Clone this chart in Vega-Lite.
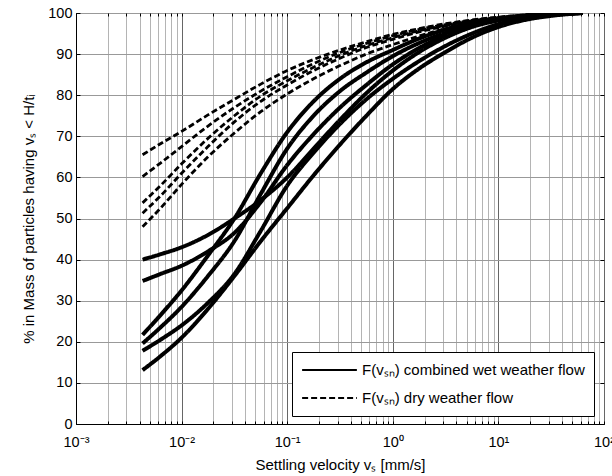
{
  "$schema": "https://vega.github.io/schema/vega-lite/v6.json",
  "width": 528,
  "height": 411,
  "autosize": {"type": "none"},
  "padding": {"left": 76, "top": 13, "right": 8, "bottom": 52},
  "background": "white",
  "config": {
    "view": {"stroke": "black", "strokeWidth": 1},
    "font": "Liberation Sans",
    "axis": {"labelFont": "Liberation Sans", "titleFont": "Liberation Sans", "labelColor": "black", "titleColor": "black", "titleFontWeight": "normal", "tickColor": "black", "domainColor": "black"}
  },
  "data": {
    "values": [
      {"v":0.00427,"p":40,"c":"w1","t":"wet"},{"v":0.00631,"p":41.3,"c":"w1","t":"wet"},{"v":0.01,"p":43,"c":"w1","t":"wet"},{"v":0.01778,"p":46,"c":"w1","t":"wet"},{"v":0.03162,"p":50,"c":"w1","t":"wet"},{"v":0.05623,"p":54.5,"c":"w1","t":"wet"},{"v":0.1,"p":60,"c":"w1","t":"wet"},{"v":0.1778,"p":67,"c":"w1","t":"wet"},{"v":0.3162,"p":74,"c":"w1","t":"wet"},{"v":0.5623,"p":80.5,"c":"w1","t":"wet"},{"v":1,"p":86,"c":"w1","t":"wet"},{"v":1.778,"p":90.5,"c":"w1","t":"wet"},{"v":3.162,"p":94,"c":"w1","t":"wet"},{"v":5.623,"p":96.6,"c":"w1","t":"wet"},{"v":10,"p":98.2,"c":"w1","t":"wet"},{"v":17.78,"p":99.2,"c":"w1","t":"wet"},{"v":31.62,"p":99.7,"c":"w1","t":"wet"},{"v":63.1,"p":100,"c":"w1","t":"wet"},
      {"v":0.00427,"p":34.8,"c":"w2","t":"wet"},{"v":0.00631,"p":36.5,"c":"w2","t":"wet"},{"v":0.01,"p":38.5,"c":"w2","t":"wet"},{"v":0.01778,"p":42,"c":"w2","t":"wet"},{"v":0.03162,"p":46.5,"c":"w2","t":"wet"},{"v":0.05623,"p":54,"c":"w2","t":"wet"},{"v":0.1,"p":63,"c":"w2","t":"wet"},{"v":0.1778,"p":70.5,"c":"w2","t":"wet"},{"v":0.3162,"p":77,"c":"w2","t":"wet"},{"v":0.5623,"p":82.5,"c":"w2","t":"wet"},{"v":1,"p":87.5,"c":"w2","t":"wet"},{"v":1.778,"p":91.5,"c":"w2","t":"wet"},{"v":3.162,"p":94.6,"c":"w2","t":"wet"},{"v":5.623,"p":96.9,"c":"w2","t":"wet"},{"v":10,"p":98.4,"c":"w2","t":"wet"},{"v":17.78,"p":99.3,"c":"w2","t":"wet"},{"v":31.62,"p":99.8,"c":"w2","t":"wet"},{"v":63.1,"p":100,"c":"w2","t":"wet"},
      {"v":0.00427,"p":21.7,"c":"w3","t":"wet"},{"v":0.00631,"p":26.5,"c":"w3","t":"wet"},{"v":0.01,"p":32.5,"c":"w3","t":"wet"},{"v":0.01778,"p":41,"c":"w3","t":"wet"},{"v":0.03162,"p":50,"c":"w3","t":"wet"},{"v":0.05623,"p":61,"c":"w3","t":"wet"},{"v":0.1,"p":71,"c":"w3","t":"wet"},{"v":0.1778,"p":78.5,"c":"w3","t":"wet"},{"v":0.3162,"p":84,"c":"w3","t":"wet"},{"v":0.5623,"p":88,"c":"w3","t":"wet"},{"v":1,"p":91,"c":"w3","t":"wet"},{"v":1.778,"p":93.8,"c":"w3","t":"wet"},{"v":3.162,"p":96,"c":"w3","t":"wet"},{"v":5.623,"p":97.6,"c":"w3","t":"wet"},{"v":10,"p":98.7,"c":"w3","t":"wet"},{"v":17.78,"p":99.4,"c":"w3","t":"wet"},{"v":31.62,"p":99.8,"c":"w3","t":"wet"},{"v":63.1,"p":100,"c":"w3","t":"wet"},
      {"v":0.00427,"p":19.6,"c":"w4","t":"wet"},{"v":0.00631,"p":23.5,"c":"w4","t":"wet"},{"v":0.01,"p":28.5,"c":"w4","t":"wet"},{"v":0.01778,"p":36,"c":"w4","t":"wet"},{"v":0.03162,"p":44.5,"c":"w4","t":"wet"},{"v":0.05623,"p":56,"c":"w4","t":"wet"},{"v":0.1,"p":67,"c":"w4","t":"wet"},{"v":0.1778,"p":75,"c":"w4","t":"wet"},{"v":0.3162,"p":81,"c":"w4","t":"wet"},{"v":0.5623,"p":85.5,"c":"w4","t":"wet"},{"v":1,"p":89.5,"c":"w4","t":"wet"},{"v":1.778,"p":92.7,"c":"w4","t":"wet"},{"v":3.162,"p":95.2,"c":"w4","t":"wet"},{"v":5.623,"p":97.1,"c":"w4","t":"wet"},{"v":10,"p":98.4,"c":"w4","t":"wet"},{"v":17.78,"p":99.3,"c":"w4","t":"wet"},{"v":31.62,"p":99.8,"c":"w4","t":"wet"},{"v":63.1,"p":100,"c":"w4","t":"wet"},
      {"v":0.00427,"p":17.8,"c":"w5","t":"wet"},{"v":0.00631,"p":20.5,"c":"w5","t":"wet"},{"v":0.01,"p":24,"c":"w5","t":"wet"},{"v":0.01778,"p":29.5,"c":"w5","t":"wet"},{"v":0.03162,"p":36.5,"c":"w5","t":"wet"},{"v":0.05623,"p":47,"c":"w5","t":"wet"},{"v":0.1,"p":58,"c":"w5","t":"wet"},{"v":0.1778,"p":66,"c":"w5","t":"wet"},{"v":0.3162,"p":73,"c":"w5","t":"wet"},{"v":0.5623,"p":79,"c":"w5","t":"wet"},{"v":1,"p":84,"c":"w5","t":"wet"},{"v":1.778,"p":88.3,"c":"w5","t":"wet"},{"v":3.162,"p":92,"c":"w5","t":"wet"},{"v":5.623,"p":95,"c":"w5","t":"wet"},{"v":10,"p":97.3,"c":"w5","t":"wet"},{"v":17.78,"p":98.7,"c":"w5","t":"wet"},{"v":31.62,"p":99.5,"c":"w5","t":"wet"},{"v":63.1,"p":100,"c":"w5","t":"wet"},
      {"v":0.00427,"p":13.1,"c":"w6","t":"wet"},{"v":0.00631,"p":16.5,"c":"w6","t":"wet"},{"v":0.01,"p":21,"c":"w6","t":"wet"},{"v":0.01778,"p":28,"c":"w6","t":"wet"},{"v":0.03162,"p":36,"c":"w6","t":"wet"},{"v":0.05623,"p":44.5,"c":"w6","t":"wet"},{"v":0.1,"p":52.5,"c":"w6","t":"wet"},{"v":0.1778,"p":60.5,"c":"w6","t":"wet"},{"v":0.3162,"p":68,"c":"w6","t":"wet"},{"v":0.5623,"p":75,"c":"w6","t":"wet"},{"v":1,"p":81.5,"c":"w6","t":"wet"},{"v":1.778,"p":86.5,"c":"w6","t":"wet"},{"v":3.162,"p":90.5,"c":"w6","t":"wet"},{"v":5.623,"p":94,"c":"w6","t":"wet"},{"v":10,"p":96.6,"c":"w6","t":"wet"},{"v":17.78,"p":98.3,"c":"w6","t":"wet"},{"v":31.62,"p":99.3,"c":"w6","t":"wet"},{"v":63.1,"p":100,"c":"w6","t":"wet"},
      {"v":0.00427,"p":65.5,"c":"d1","t":"dry"},{"v":0.00631,"p":68.2,"c":"d1","t":"dry"},{"v":0.01,"p":71.2,"c":"d1","t":"dry"},{"v":0.01778,"p":75.2,"c":"d1","t":"dry"},{"v":0.03162,"p":79,"c":"d1","t":"dry"},{"v":0.05623,"p":82.7,"c":"d1","t":"dry"},{"v":0.1,"p":86,"c":"d1","t":"dry"},{"v":0.1778,"p":88.7,"c":"d1","t":"dry"},{"v":0.3162,"p":91,"c":"d1","t":"dry"},{"v":0.5623,"p":93,"c":"d1","t":"dry"},{"v":1,"p":94.8,"c":"d1","t":"dry"},{"v":1.778,"p":96.2,"c":"d1","t":"dry"},{"v":3.162,"p":97.4,"c":"d1","t":"dry"},{"v":5.623,"p":98.3,"c":"d1","t":"dry"},{"v":10,"p":99,"c":"d1","t":"dry"},{"v":17.78,"p":99.5,"c":"d1","t":"dry"},{"v":31.62,"p":99.8,"c":"d1","t":"dry"},{"v":63.1,"p":100,"c":"d1","t":"dry"},
      {"v":0.00427,"p":60.2,"c":"d2","t":"dry"},{"v":0.00631,"p":63.5,"c":"d2","t":"dry"},{"v":0.01,"p":67.5,"c":"d2","t":"dry"},{"v":0.01778,"p":72.5,"c":"d2","t":"dry"},{"v":0.03162,"p":77,"c":"d2","t":"dry"},{"v":0.05623,"p":81,"c":"d2","t":"dry"},{"v":0.1,"p":84.5,"c":"d2","t":"dry"},{"v":0.1778,"p":87.7,"c":"d2","t":"dry"},{"v":0.3162,"p":90.4,"c":"d2","t":"dry"},{"v":0.5623,"p":92.6,"c":"d2","t":"dry"},{"v":1,"p":94.5,"c":"d2","t":"dry"},{"v":1.778,"p":96,"c":"d2","t":"dry"},{"v":3.162,"p":97.2,"c":"d2","t":"dry"},{"v":5.623,"p":98.2,"c":"d2","t":"dry"},{"v":10,"p":98.9,"c":"d2","t":"dry"},{"v":17.78,"p":99.4,"c":"d2","t":"dry"},{"v":31.62,"p":99.8,"c":"d2","t":"dry"},{"v":63.1,"p":100,"c":"d2","t":"dry"},
      {"v":0.00427,"p":53.8,"c":"d3","t":"dry"},{"v":0.00631,"p":58,"c":"d3","t":"dry"},{"v":0.01,"p":63.3,"c":"d3","t":"dry"},{"v":0.01778,"p":69.5,"c":"d3","t":"dry"},{"v":0.03162,"p":75,"c":"d3","t":"dry"},{"v":0.05623,"p":79.8,"c":"d3","t":"dry"},{"v":0.1,"p":83.5,"c":"d3","t":"dry"},{"v":0.1778,"p":86.8,"c":"d3","t":"dry"},{"v":0.3162,"p":89.7,"c":"d3","t":"dry"},{"v":0.5623,"p":92.1,"c":"d3","t":"dry"},{"v":1,"p":94,"c":"d3","t":"dry"},{"v":1.778,"p":95.7,"c":"d3","t":"dry"},{"v":3.162,"p":97,"c":"d3","t":"dry"},{"v":5.623,"p":98.1,"c":"d3","t":"dry"},{"v":10,"p":98.8,"c":"d3","t":"dry"},{"v":17.78,"p":99.4,"c":"d3","t":"dry"},{"v":31.62,"p":99.8,"c":"d3","t":"dry"},{"v":63.1,"p":100,"c":"d3","t":"dry"},
      {"v":0.00427,"p":51.3,"c":"d4","t":"dry"},{"v":0.00631,"p":55.5,"c":"d4","t":"dry"},{"v":0.01,"p":61,"c":"d4","t":"dry"},{"v":0.01778,"p":67.5,"c":"d4","t":"dry"},{"v":0.03162,"p":73.5,"c":"d4","t":"dry"},{"v":0.05623,"p":78.5,"c":"d4","t":"dry"},{"v":0.1,"p":82.5,"c":"d4","t":"dry"},{"v":0.1778,"p":86,"c":"d4","t":"dry"},{"v":0.3162,"p":89,"c":"d4","t":"dry"},{"v":0.5623,"p":91.6,"c":"d4","t":"dry"},{"v":1,"p":93.6,"c":"d4","t":"dry"},{"v":1.778,"p":95.4,"c":"d4","t":"dry"},{"v":3.162,"p":96.8,"c":"d4","t":"dry"},{"v":5.623,"p":98,"c":"d4","t":"dry"},{"v":10,"p":98.8,"c":"d4","t":"dry"},{"v":17.78,"p":99.4,"c":"d4","t":"dry"},{"v":31.62,"p":99.8,"c":"d4","t":"dry"},{"v":63.1,"p":100,"c":"d4","t":"dry"},
      {"v":0.00427,"p":48,"c":"d5","t":"dry"},{"v":0.00631,"p":52.5,"c":"d5","t":"dry"},{"v":0.01,"p":58.3,"c":"d5","t":"dry"},{"v":0.01778,"p":65,"c":"d5","t":"dry"},{"v":0.03162,"p":70.8,"c":"d5","t":"dry"},{"v":0.05623,"p":76,"c":"d5","t":"dry"},{"v":0.1,"p":80.3,"c":"d5","t":"dry"},{"v":0.1778,"p":84,"c":"d5","t":"dry"},{"v":0.3162,"p":87.2,"c":"d5","t":"dry"},{"v":0.5623,"p":90,"c":"d5","t":"dry"},{"v":1,"p":92.3,"c":"d5","t":"dry"},{"v":1.778,"p":94.4,"c":"d5","t":"dry"},{"v":3.162,"p":96.2,"c":"d5","t":"dry"},{"v":5.623,"p":97.6,"c":"d5","t":"dry"},{"v":10,"p":98.6,"c":"d5","t":"dry"},{"v":17.78,"p":99.3,"c":"d5","t":"dry"},{"v":31.62,"p":99.7,"c":"d5","t":"dry"},{"v":63.1,"p":100,"c":"d5","t":"dry"}
    ]
  },
  "layer": [
    {
      "transform": [{"filter": "datum.t == 'wet'"}],
      "mark": {"type": "line", "interpolate": "monotone", "strokeWidth": 4, "color": "black", "clip": true},
      "encoding": {
        "x": {
          "field": "v", "type": "quantitative",
          "scale": {"type": "log", "domain": [0.001, 100], "nice": false},
          "axis": {
            "orient": "bottom",
            "values": [0.001,0.002,0.003,0.004,0.005,0.006,0.007,0.008,0.009,0.01,0.02,0.03,0.04,0.05,0.06,0.07,0.08,0.09,0.1,0.2,0.3,0.4,0.5,0.6,0.7,0.8,0.9,1,2,3,4,5,6,7,8,9,10,20,30,40,50,60,70,80,90,100],
            "labelExpr": "['10⁻³','10⁻²','10⁻¹','10⁰','10¹','10²'][indexof([0.001,0.01,0.1,1,10,100], datum.value)] || ''",
            "labelOverlap": false,
            "labelFontSize": 14.5,
            "labelPadding": 14,
            "labelFlush": false,
            "grid": true,
            "gridColor": {"condition": {"test": "indexof([0.001,0.01,0.1,1,10,100], datum.value) >= 0", "value": "#666666"}, "value": "#b4b4b4"},
            "gridWidth": 1,
            "ticks": true,
            "tickSize": -3,
            "domain": true,
            "title": "Settling velocity vₛ [mm/s]",
            "titleFontSize": 15,
            "titlePadding": 9
          }
        },
        "y": {
          "field": "p", "type": "quantitative",
          "scale": {"domain": [0, 100], "nice": false},
          "axis": {
            "orient": "left",
            "values": [0,10,20,30,40,50,60,70,80,90,100],
            "labelFontSize": 14.5,
            "labelPadding": 8,
            "labelFlush": false,
            "grid": true,
            "gridColor": "#999999",
            "ticks": true,
            "tickSize": -4,
            "domain": true,
            "title": "% in Mass of particles having vₛ < H/tᵢ",
            "titleFontSize": 15,
            "titlePadding": 11
          }
        },
        "detail": {"field": "c"},
        "strokeDash": {
          "field": "t", "type": "nominal",
          "scale": {"domain": ["wet", "dry"], "range": [[1, 0], [6, 3]]},
          "legend": {
            "orient": "none",
            "legendX": 216,
            "legendY": 339,
            "title": null,
            "fillColor": "white",
            "strokeColor": "black",
            "padding": 9,
            "cornerRadius": 0,
            "symbolType": "stroke",
            "symbolSize": 3000,
            "symbolStrokeWidth": 2,
            "symbolStrokeColor": "black",
            "clipHeight": 18,
            "rowPadding": 10,
            "labelFontSize": 15,
            "labelFont": "Liberation Sans",
            "labelColor": "black",
            "labelOffset": 4,
            "labelLimit": 400,
            "labelExpr": "datum.value == 'wet' ? 'F(vₛₙ) combined wet weather flow' : 'F(vₛₙ) dry weather flow'"
          }
        }
      }
    },
    {
      "transform": [{"filter": "datum.t == 'dry'"}],
      "mark": {"type": "line", "interpolate": "monotone", "strokeWidth": 2.8, "color": "black", "clip": true},
      "encoding": {
        "x": {
          "field": "v", "type": "quantitative",
          "axis": {
            "orient": "top",
            "values": [0.001,0.002,0.003,0.004,0.005,0.006,0.007,0.008,0.009,0.01,0.02,0.03,0.04,0.05,0.06,0.07,0.08,0.09,0.1,0.2,0.3,0.4,0.5,0.6,0.7,0.8,0.9,1,2,3,4,5,6,7,8,9,10,20,30,40,50,60,70,80,90,100],
            "labels": false, "grid": false, "ticks": true, "tickSize": -3, "domain": false, "title": null
          }
        },
        "y": {
          "field": "p", "type": "quantitative",
          "axis": {
            "orient": "right",
            "values": [0,10,20,30,40,50,60,70,80,90,100],
            "labels": false, "grid": false, "ticks": true, "tickSize": -4, "domain": false, "title": null
          }
        },
        "detail": {"field": "c"},
        "strokeDash": {"field": "t", "type": "nominal"}
      }
    }
  ],
  "resolve": {"axis": {"x": "independent", "y": "independent"}}
}
